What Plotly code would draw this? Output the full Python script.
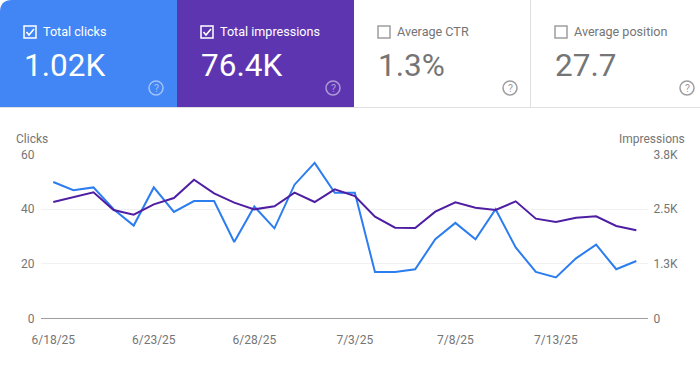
import plotly.graph_objects as go

dates = ["6/18/25","6/19/25","6/20/25","6/21/25","6/22/25","6/23/25","6/24/25","6/25/25","6/26/25","6/27/25",
         "6/28/25","6/29/25","6/30/25","7/1/25","7/2/25","7/3/25","7/4/25","7/5/25","7/6/25","7/7/25",
         "7/8/25","7/9/25","7/10/25","7/11/25","7/12/25","7/13/25","7/14/25","7/15/25","7/16/25","7/17/25"]
clicks = [50,47,48,40,34,48,39,43,43,28,41,33,49,57,46,46,17,17,18,29,35,29,40,26,17,15,22,27,18,21]
impressions = [2665,2772,2887,2482,2375,2612,2757,3177,2864,2650,2497,2566,2879,2665,2956,2803,2329,2077,2070,2444,
               2658,2536,2482,2681,2284,2207,2306,2337,2116,2016]
x_ticks = ["6/18/25","6/23/25","6/28/25","7/3/25","7/8/25","7/13/25"]
clicks_ticks = [0,20,40,60]
impr_ticks = [0,1250,2500,3750]
impr_labels = ["0","1.3K","2.5K","3.8K"]
cards = [("Total clicks","1.02K",True),("Total impressions","76.4K",True),("Average CTR","1.3%",False),("Average position","27.7",False)]

W, H = 700, 371
BLUE, PURPLE = "#4285f4", "#5e35b1"
GREY = "#757575"
def px(x): return x / W
def py(y): return 1 - y / H

fig = go.Figure()
fig.add_trace(go.Scatter(x=dates, y=clicks, mode="lines", line=dict(color="#2b7df0", width=2), xaxis="x", yaxis="y", showlegend=False))
fig.add_trace(go.Scatter(x=dates, y=impressions, mode="lines", line=dict(color="#4f1fa3", width=2), xaxis="x", yaxis="y2", showlegend=False))

shapes, ann = [], []
def path_shape(d, **kw):
    shapes.append(dict(type="path", path=d, xref="paper", yref="paper", layer="below", **kw))
def rect(x0, y0, x1, y1, fill, line=None, lw=0, layer="below"):
    shapes.append(dict(type="rect", xref="paper", yref="paper", x0=px(x0), x1=px(x1), y0=py(y0), y1=py(y1),
                       fillcolor=fill, line=dict(color=line or fill, width=lw), layer=layer))
def text(x, y, s, size, color, xanchor="left"):
    ann.append(dict(x=px(x), y=py(y), xref="paper", yref="paper", text=s, showarrow=False, xanchor=xanchor, yanchor="middle",
                    font=dict(family="Roboto", size=size, color=color), borderpad=0, borderwidth=0))

# header cards
r = 12
path_shape(f"M {px(0)} {py(107)} L {px(0)} {py(r)} Q {px(0)} {py(0)} {px(r)} {py(0)} L {px(177)} {py(0)} L {px(177)} {py(107)} Z", fillcolor=BLUE, line=dict(width=0))
rect(177, 0, 354, 107, PURPLE)
rect(354, 107, 700, 108, "#e0e0e0")
rect(530, 0, 531, 107, "#e0e0e0")
rect(0, 107, 354, 108, "#e0e0e0")

card_x = [24, 201, 378, 555]
help_x = [156, 333, 510, 687]
for i, (label, value, on) in enumerate(cards):
    cx = card_x[i]
    tc = "#ffffff" if on else GREY
    if on:
        rect(cx, 26, cx + 12, 38, "rgba(0,0,0,0)", "#ffffff", 1.5, "above")
        path_shape(f"M {px(cx+2.5)} {py(32)} L {px(cx+5)} {py(35)} L {px(cx+10)} {py(29)}", line=dict(color="#ffffff", width=1.6))
    else:
        rect(cx, 26, cx + 12, 38, "rgba(0,0,0,0)", "#9e9e9e", 1.5, "above")
    text(cx + 19, 31, label, 12.6, tc)
    text(cx, 65, value, 31.5, tc)
    hc = "rgba(255,255,255,0.5)" if on else "#9e9e9e"
    shapes.append(dict(type="circle", xref="paper", yref="paper", x0=px(help_x[i]-7), x1=px(help_x[i]+7), y0=py(95), y1=py(81),
                       line=dict(color=hc, width=1.5), fillcolor="rgba(0,0,0,0)"))
    text(help_x[i], 88, "?", 10.5, hc, "center")

text(16, 138.5, "Clicks", 12, GREY)
text(685, 138.5, "Impressions", 12, GREY, "right")

fig.update_layout(
    width=W, height=H, autosize=False,
    margin=dict(l=0, r=0, t=0, b=0, pad=0),
    paper_bgcolor="#ffffff", plot_bgcolor="#ffffff",
    font=dict(family="Roboto", size=12, color=GREY),
    shapes=shapes, annotations=ann, showlegend=False,
    xaxis=dict(type="category", categoryorder="array", categoryarray=dates, domain=[px(41), px(648)], range=[-0.61, 29.58],
               automargin=False, tickmode="array", tickvals=x_ticks, ticktext=x_ticks, showgrid=False, zeroline=False,
               showline=False, ticks="outside", ticklen=10, tickcolor="rgba(0,0,0,0)", tickfont=dict(size=12, color=GREY), anchor="y"),
    yaxis=dict(domain=[py(318.3), py(154.7)], range=[0, 60], tickmode="array", tickvals=clicks_ticks, automargin=False,
               gridcolor="#f1f1f1", gridwidth=1, zeroline=True, zerolinecolor="#9e9e9e", zerolinewidth=1,
               showline=False, ticks="outside", ticklen=3, tickcolor="rgba(0,0,0,0)", tickfont=dict(size=12, color=GREY), anchor="x"),
    yaxis2=dict(domain=[py(318.3), py(154.7)], range=[0, 3750], overlaying="y", side="right", tickmode="array", automargin=False,
                tickvals=impr_ticks, ticktext=impr_labels, showgrid=False, zeroline=False, showline=False,
                ticks="outside", ticklen=2, tickcolor="rgba(0,0,0,0)", tickfont=dict(size=12, color=GREY), anchor="x"),
)
fig.write_html("out.html", config=dict(displayModeBar=False), post_script="document.body.style.margin='0';")
